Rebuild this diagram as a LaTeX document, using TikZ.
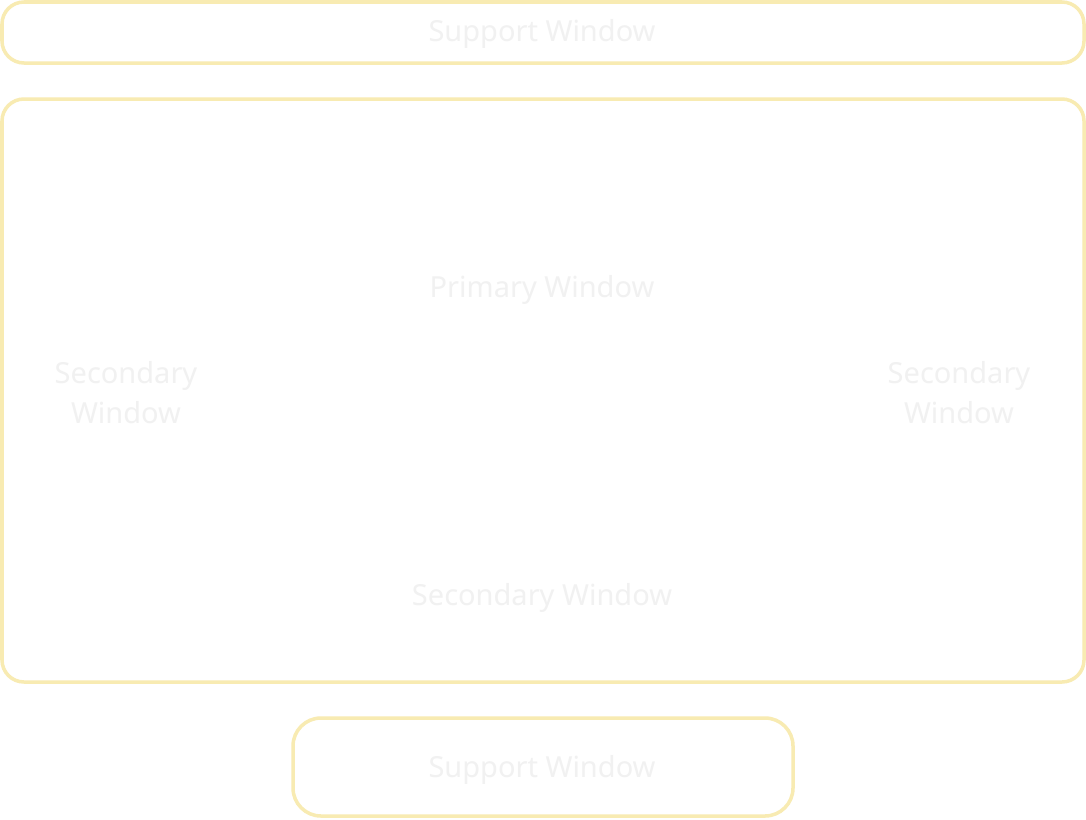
\documentclass[tikz,border=0pt]{standalone}
\usepackage{fontspec}
\setmainfont{Noto Sans}
\definecolor{frame}{HTML}{F8EBB2}
\definecolor{label}{HTML}{F1F1F1}
\begin{document}
\begin{tikzpicture}[x=1pt,y=-1pt,
  winbox/.style={draw=frame,line width=3.5pt,rounded corners=22pt,fill=white},
  inner/.style={draw=white,line width=1pt,fill=white},
  lbl/.style={text=label,font=\fontsize{29}{40}\selectfont,align=center}]
\useasboundingbox[fill=white] (0,0) rectangle (1086,819);
\draw[winbox] (2,2) rectangle (1084,63);
\node[lbl] (supTop) at (542,34) {Support Window};
\draw[winbox] (2,99) rectangle (1084,682);
\draw[inner] (292,113) rectangle (793,460);
\draw[inner] (292,525) rectangle (793,665);
\node[lbl] (primary) at (542,290) {Primary Window};
\node[lbl] (secL) at (126,393) {Secondary\\Window};
\node[lbl] (secR) at (959,393) {Secondary\\Window};
\node[lbl] (secB) at (542,598) {Secondary Window};
\draw[winbox,rounded corners=28pt] (293,718) rectangle (793,816);
\node[lbl] (supBot) at (542,770) {Support Window};
\end{tikzpicture}
\end{document}
